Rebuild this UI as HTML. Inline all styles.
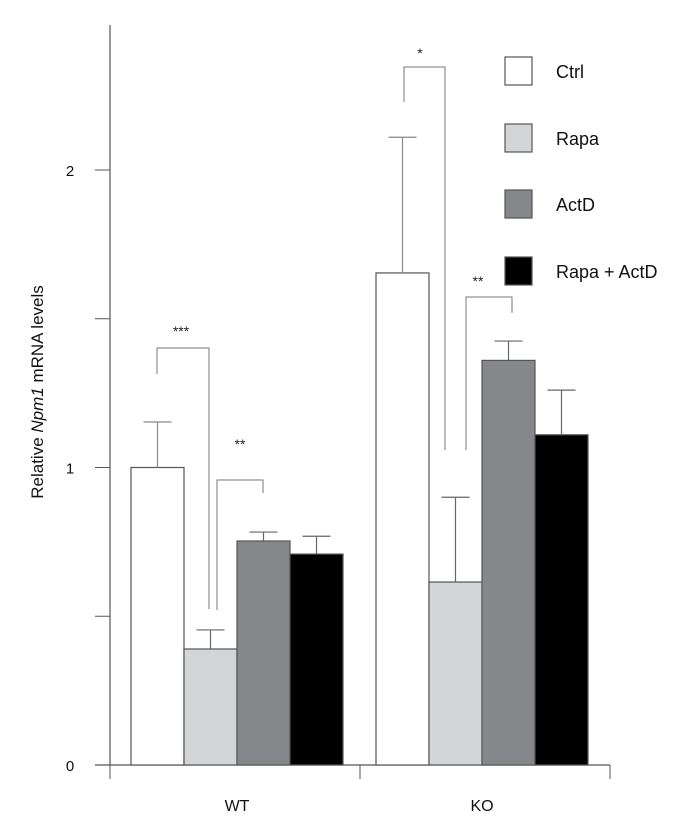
<!DOCTYPE html>
<html><head><meta charset="utf-8"><style>
html,body{margin:0;padding:0;background:#fff;}
svg{display:block;font-family:"Liberation Sans",sans-serif;}
</style></head><body>
<svg id="chart" width="691" height="835" viewBox="0 0 691 835">
<rect x="0" y="0" width="691" height="835" fill="#fff"/>
<g id="axes"></g><g id="bars"></g><g id="sig"></g>
<text transform="translate(43,392) rotate(-90)" text-anchor="middle" font-size="17" fill="#111">Relative <tspan font-style="italic">Npm1</tspan> mRNA levels</text>
<g id="legend"></g>
</svg>
<script>
const groups = ["WT","KO"];
const series = ["Ctrl","Rapa","ActD","Rapa + ActD"];
const colors = ["#ffffff","#d4d5d7","#86878b","#000000"];
const wtValues = [1.0, 0.39, 0.753, 0.709];
const wtErrors = [0.153, 0.064, 0.03, 0.06];
const koValues = [1.654, 0.615, 1.36, 1.11];
const koErrors = [0.456, 0.285, 0.065, 0.15];
const yTicks = [0, 0.5, 1, 1.5, 2];
const yTickLabels = ["0","","1","","2"];

const NS="http://www.w3.org/2000/svg";
const y0=765, pxPerUnit=297.5;
function yScale(v){return y0 - v*pxPerUnit;}
const groupStart=[131,376], barW=53;
function xBar(g,s){return groupStart[g]+s*barW;}
function mk(parent,tag,attrs){const e=document.createElementNS(NS,tag);for(const k in attrs)e.setAttribute(k,attrs[k]);document.getElementById(parent).appendChild(e);return e;}

let e=mk("axes","line",{x1:110,y1:25,x2:110,y2:765,stroke:"#555","stroke-width":1.2});


yTicks.forEach((t,i)=>{
  const l=mk("axes","line",{x1:95,y1:yScale(t),x2:110,y2:yScale(t),stroke:"#555","stroke-width":1});
  
  
  if(yTickLabels[i]){
    const tx=mk("axes","text",{x:70,y:yScale(t)+6,"font-size":15,"text-anchor":"middle",fill:"#111"});
    tx.textContent=yTickLabels[i];
    
    
  }
});
e=mk("axes","line",{x1:95,y1:765,x2:610,y2:765,stroke:"#555","stroke-width":1.2});


[110,360,610].forEach(x=>{
  const l=mk("axes","line",{x1:x,y1:765,x2:x,y2:779,stroke:"#555","stroke-width":1});
  
  
});
groups.forEach((g,gi)=>{
  const tx=mk("axes","text",{x:groupStart[gi]+2*barW,y:811,"font-size":16,"text-anchor":"middle",fill:"#111"});
  tx.textContent=g;
  
  
});

[wtValues,koValues].forEach((vals,gi)=>{
  const errs=gi===0?wtErrors:koErrors;
  vals.forEach((v,si)=>{
    const x=xBar(gi,si), top=yScale(v);
    const r=mk("bars","rect",{x:x,y:top,width:barW,height:y0-top,fill:colors[si],stroke:"#555","stroke-width":1.2});
    
    
    const cx=x+barW/2, et=yScale(v+errs[si]);
    const el=mk("bars","path",{d:`M${cx},${top} V${et} M${cx-14},${et} H${cx+14}`,stroke:si===0?"#888":"#666",fill:"none","stroke-width":1.2});
    
    
  });
});

const br=[
 {d:"M157,374 V348 H209 V609",t:"***",tx:181,ty:336},
 {d:"M217,610 V480 H263 V493",t:"**",tx:240,ty:449},
 {d:"M404,102 V67 H445 V450",t:"*",tx:420,ty:58},
 {d:"M466,450 V297 H512 V313",t:"**",tx:478,ty:286}
];
br.forEach(b=>{
  const p=mk("sig","path",{d:b.d,stroke:"#777",fill:"none","stroke-width":1});
  
  
  const t=mk("sig","text",{x:b.tx,y:b.ty,"font-size":14,"text-anchor":"middle",fill:"#222"});
  t.textContent=b.t;
  
  
});

const legY=[57,124,190,257];
series.forEach((s,i)=>{
  const r=mk("legend","rect",{x:505,y:legY[i],width:27,height:28,fill:colors[i],stroke:"#555","stroke-width":1.2});
  
  
  const t=mk("legend","text",{x:556,y:legY[i]+21,"font-size":18,fill:"#111"});
  t.textContent=s;
  
  
});
</script>
</body></html>
